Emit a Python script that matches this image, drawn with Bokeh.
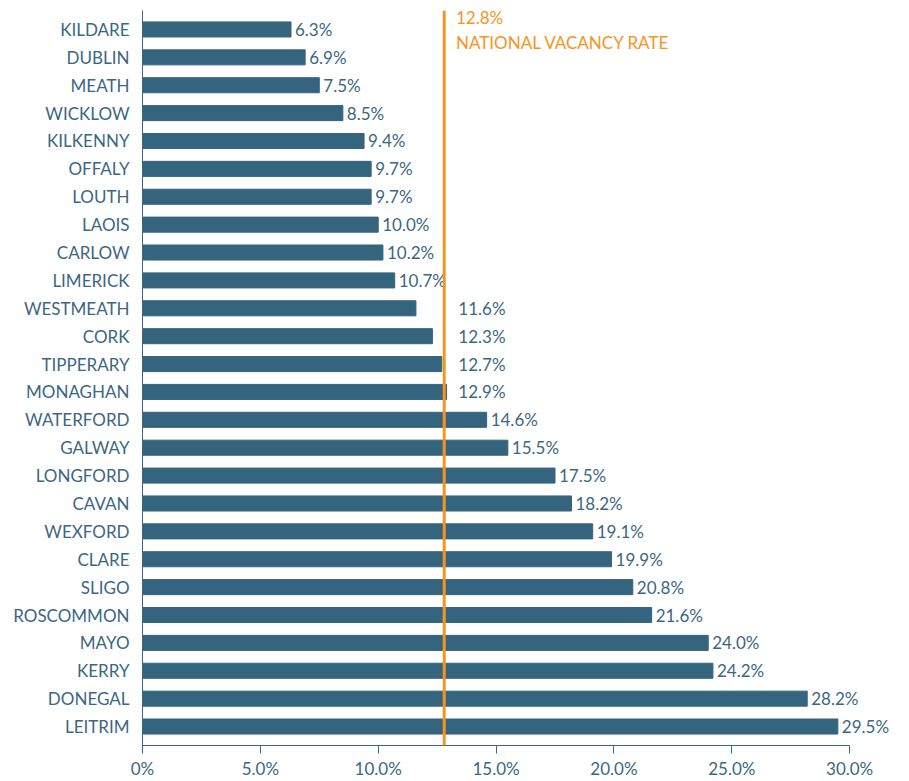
from bokeh.plotting import figure
from bokeh.models import ColumnDataSource, FactorRange, Range1d, Span, Label, FixedTicker, CustomJSTickFormatter
from bokeh.embed import file_html
from bokeh.resources import INLINE
from bokeh.core.properties import value

counties = ["KILDARE", "DUBLIN", "MEATH", "WICKLOW", "KILKENNY", "OFFALY", "LOUTH",
            "LAOIS", "CARLOW", "LIMERICK", "WESTMEATH", "CORK", "TIPPERARY", "MONAGHAN",
            "WATERFORD", "GALWAY", "LONGFORD", "CAVAN", "WEXFORD", "CLARE", "SLIGO",
            "ROSCOMMON", "MAYO", "KERRY", "DONEGAL", "LEITRIM"]
rates = [6.3, 6.9, 7.5, 8.5, 9.4, 9.7, 9.7, 10.0, 10.2, 10.7, 11.6, 12.3, 12.7, 12.9,
         14.6, 15.5, 17.5, 18.2, 19.1, 19.9, 20.8, 21.6, 24.0, 24.2, 28.2, 29.5]
national_rate = 12.8
national_label = ["12.8%", "NATIONAL VACANCY RATE"]
x_ticks = [0, 5, 10, 15, 20, 25, 30]

BAR = "#35657e"
TEXT = "#3c6781"
ORANGE = "#f7941d"
FONT = "Lato"
FS = "17px"

factors = counties[::-1]
near = [abs(r - national_rate) < 1.3 for r in rates]
label_x = [national_rate + 0.6 if n else r for r, n in zip(rates, near)]
label_off = [0 if n else 4 for n in near]
labels = ["%.1f%%" % r for r in rates]

src = ColumnDataSource(dict(county=counties, rate=rates, lx=label_x, lo=label_off, lab=labels))

yr = FactorRange(factors=factors, range_padding=0.18, range_padding_units="absolute")
p = figure(width=909, height=781, y_range=yr, x_range=Range1d(0, 32.2),
           output_backend="svg", toolbar_location=None,
           min_border_left=142, min_border_right=8, min_border_top=10, min_border_bottom=32)
p.outline_line_color = None
p.grid.grid_line_color = None

p.hbar(y="county", right="rate", left=0, height=0.54, source=src, color=BAR)

p.add_layout(Span(location=national_rate, dimension="height", line_color=ORANGE, line_width=3))

p.text(x="lx", y="county", text="lab", x_offset="lo", source=src,
       text_font=value(FONT), text_font_size=FS, text_color=TEXT,
       text_baseline="middle", text_align="left")

top = len(counties) + 0.18
p.add_layout(Label(x=national_rate + 0.5, y=top - 0.25, text=national_label[0],
                   text_font=FONT, text_font_size=FS, text_color=ORANGE,
                   text_baseline="middle"))
p.add_layout(Label(x=national_rate + 0.5, y=top - 1.14, text=national_label[1],
                   text_font=FONT, text_font_size=FS, text_color=ORANGE,
                   text_baseline="middle"))

xa = p.xaxis[0]
xa.ticker = FixedTicker(ticks=x_ticks)
xa.formatter = CustomJSTickFormatter(code="return tick == 0 ? '0%' : tick.toFixed(1) + '%';")
xa.bounds = (0, 30)
xa.axis_line_color = TEXT
xa.major_tick_line_color = TEXT
xa.major_tick_out = 8
xa.major_tick_in = 0
xa.minor_tick_line_color = None
xa.major_label_text_font = FONT
xa.major_label_text_font_size = FS
xa.major_label_text_color = TEXT
xa.major_label_standoff = 4

ya = p.yaxis[0]
ya.axis_line_color = TEXT
ya.major_tick_line_color = None
ya.minor_tick_line_color = None
ya.major_label_text_font = FONT
ya.major_label_text_font_size = FS
ya.major_label_text_color = TEXT
ya.major_label_standoff = 7

open("out.html", "w").write(file_html(p, INLINE))
